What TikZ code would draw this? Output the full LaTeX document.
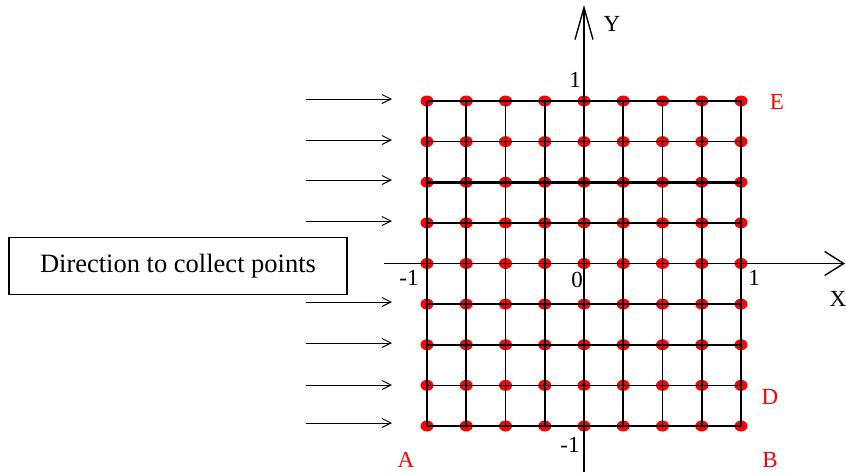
\documentclass[tikz,border=0pt]{standalone}
\usepackage{fontspec}
\setmainfont{Liberation Serif}
\usetikzlibrary{arrows.meta,shapes.geometric}
\begin{document}
\begin{tikzpicture}[x=1pt,y=-1pt,
  dot/.style={ellipse,fill=red,inner sep=0pt,minimum width=13pt,minimum height=11pt},
  lbl/.style={font=\fontsize{23}{26}\selectfont,inner sep=0pt},
  redlbl/.style={lbl,text=red},
  thickrow/.style={line width=2.5pt},
  thinrow/.style={line width=1.5pt},
  vline/.style={line width=1.8pt},
  feed/.style={line width=1pt,-{Straight Barb[length=9pt,width=9pt]}},
  axis/.style={line width=1.4pt}
]
\useasboundingbox (0,0) rectangle (846,472);
% grid points
\foreach \i in {0,...,8}
  \foreach \j in {0,...,8}
    \coordinate (p\i-\j) at ({427+\i*39.25},{101+\j*40.625});
% red dots
\foreach \i in {0,...,8}
  \foreach \j in {0,...,8}
    \node[dot] (d\i-\j) at (p\i-\j) {};
% vertical grid lines
\foreach \i in {0,...,8}
  \draw[vline] (p\i-0) -- (p\i-8);
% horizontal grid lines
\foreach \j/\s in {0/thickrow,1/thinrow,2/thickrow,3/thickrow,4/thinrow,5/thickrow,6/thickrow,7/thinrow,8/thickrow}
  \draw[\s] (p0-\j) -- (p8-\j);
% axes
\coordinate (xs) at (384,263.5);
\coordinate (xe) at (845,263.5);
\draw[axis,-{Straight Barb[length=19pt,width=24pt]}] (xs) -- (xe);
\coordinate (ys) at (584,472);
\coordinate (ye) at (584,5);
\draw[axis,-{Straight Barb[length=32pt,width=18pt]}] (ys) -- (ye);
% feed arrows
\foreach \j/\y in {0/99,1/140,2/180,3/221,5/302,6/343,7/385,8/423}{
  \coordinate (fs\j) at (306,\y);
  \coordinate (fe\j) at (392,\y);
  \draw[feed] (fs\j) -- (fe\j);
}
% box
\node[draw,line width=1.3pt,minimum width=338pt,minimum height=57pt,inner sep=0pt,
  font=\fontsize{26.5}{30}\selectfont] (box) at (178,266) {Direction to collect points};
% labels
\node[lbl] (ylab) at (612,24) {Y};
\node[lbl] (xlab) at (838,299) {X};
\node[lbl] (one) at (575,80) {1};
\node[lbl] (mone) at (409,278) {-1};
\node[lbl] (zero) at (577,280) {0};
\node[lbl] (onex) at (754,278) {1};
\node[lbl] (money) at (570,445) {-1};
\node[redlbl] (E) at (777,102) {E};
\node[redlbl] (D) at (770,397) {D};
\node[redlbl] (A) at (406,460) {A};
\node[redlbl] (B) at (770,460) {B};
\end{tikzpicture}
\end{document}
